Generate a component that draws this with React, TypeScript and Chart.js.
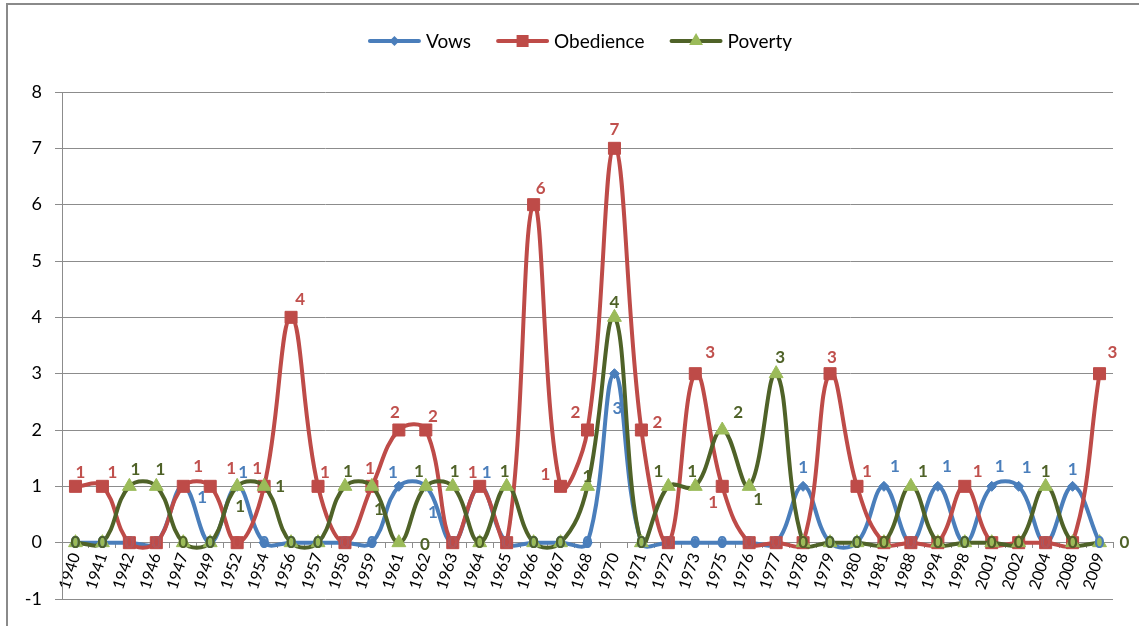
import React, { useEffect, useRef } from "react";
import { Chart, registerables } from "chart.js";

Chart.register(...registerables);

const categories = [
  "1940", "1941", "1942", "1946", "1947", "1949", "1952", "1954", "1956", "1957",
  "1958", "1959", "1961", "1962", "1963", "1964", "1965", "1966", "1967", "1968",
  "1970", "1971", "1972", "1973", "1975", "1976", "1977", "1978", "1979", "1980",
  "1981", "1988", "1994", "1998", "2001", "2002", "2004", "2008", "2009",
];

const vows = [0, 0, 0, 0, 1, 0, 1, 0, 0, 0, 0, 0, 1, 1, 0, 1, 0, 0, 0, 0, 3, 0, 0, 0, 0, 0, 0, 1, 0, 0, 1, 0, 1, 0, 1, 1, 0, 1, 0];
const obedience = [1, 1, 0, 0, 1, 1, 0, 1, 4, 1, 0, 1, 2, 2, 0, 1, 0, 6, 1, 2, 7, 2, 0, 3, 1, 0, 0, 0, 3, 1, 0, 0, 0, 1, 0, 0, 0, 0, 3];
const poverty = [0, 0, 1, 1, 0, 0, 1, 1, 0, 0, 1, 1, 0, 1, 1, 0, 1, 0, 0, 1, 4, 0, 1, 1, 2, 1, 3, 0, 0, 0, 0, 1, 0, 0, 0, 0, 1, 0, 0];

const seriesNames = ["Vows", "Obedience", "Poverty"];
const yMin = -1;
const yMax = 8;

// styling
const lineColors = ["#4A7EBB", "#BE4B48", "#4F6228"];
const markerColors = ["#4A7EBB", "#BE4B48", "#9BBB59"];
const labelColors = ["#4A7EBB", "#C0504D", "#4F6228"];
const FONT = "Lato, 'Open Sans', sans-serif";

// label offsets (series-index) -> [dx, dy]
const labelOffsets: Record<string, [number, number]> = {
  "0-4": [19, 11], "0-6": [6, -14], "0-12": [-6, -14], "0-13": [7, 26], "0-15": [7, -14],
  "0-20": [3, 35], "0-27": [0, -19], "0-30": [11, -20], "0-32": [9, -20], "0-34": [8, -20],
  "0-35": [8, -19], "0-37": [0, -17],
  "1-0": [5, -14], "1-1": [10, -14], "1-4": [15, -20], "1-5": [21, -18], "1-7": [-7, -18],
  "1-8": [9, -18], "1-9": [7, -14], "1-11": [-2, -18], "1-12": [-4, -17], "1-13": [7, -13],
  "1-15": [-7, -14], "1-17": [7, -16], "1-18": [-15, -12], "1-19": [-12, -17], "1-20": [0, -19],
  "1-21": [16, -7], "1-23": [15, -21], "1-24": [-9, 16], "1-28": [2, -16], "1-29": [10, -15],
  "1-33": [13, -15], "1-38": [13, -21],
  "2-2": [6, -17], "2-3": [4, -17], "2-6": [3, 20], "2-7": [16, 0], "2-10": [3, -15],
  "2-11": [7, 23], "2-12": [26, 2], "2-13": [-7, -15], "2-14": [2, -15], "2-16": [-2, -15],
  "2-19": [0, -10], "2-20": [0, -15], "2-22": [-10, -15], "2-23": [-3, -15], "2-24": [16, -17],
  "2-25": [9, 13], "2-26": [4, -16], "2-31": [12, -15], "2-36": [0, -15], "2-38": [25, 0],
};

function drawMarker(ctx: CanvasRenderingContext2D, kind: number, x: number, y: number) {
  ctx.fillStyle = markerColors[kind];
  ctx.beginPath();
  if (kind === 0) {
    const r = 5;
    ctx.moveTo(x, y - r);
    ctx.lineTo(x + r, y);
    ctx.lineTo(x, y + r);
    ctx.lineTo(x - r, y);
    ctx.closePath();
  } else if (kind === 1) {
    ctx.rect(x - 6, y - 6, 12, 12);
  } else {
    const r = 8;
    ctx.moveTo(x, y - r);
    ctx.lineTo(x + r * 0.866, y + r * 0.5);
    ctx.lineTo(x - r * 0.866, y + r * 0.5);
    ctx.closePath();
  }
  ctx.fill();
}

const decorPlugin = {
  id: "decor",
  afterDatasetsDraw(chart: any) {
    const ctx: CanvasRenderingContext2D = chart.ctx;
    ctx.save();
    ctx.font = `bold 17px ${FONT}`;
    ctx.textAlign = "center";
    ctx.textBaseline = "middle";
    chart.data.datasets.forEach((ds: any, s: number) => {
      const meta = chart.getDatasetMeta(s);
      meta.data.forEach((pt: any, i: number) => {
        const v = ds.data[i];
        const off = labelOffsets[`${s}-${i}`] ?? (v === 0 ? [0, 0] : [6, -17]);
        ctx.fillStyle = labelColors[s];
        ctx.fillText(String(v), pt.x + off[0], pt.y + off[1]);
      });
    });
    ctx.restore();
  },
  afterDraw(chart: any) {
    const ctx: CanvasRenderingContext2D = chart.ctx;
    ctx.save();
    // outer border
    ctx.strokeStyle = "#8a8a8a";
    ctx.lineWidth = 2;
    ctx.strokeRect(7, 4, 1300, 800);
    // legend
    ctx.font = `19px ${FONT}`;
    ctx.textBaseline = "middle";
    ctx.textAlign = "left";
    const lineLen = 53;
    const gapText = 5;
    const gapItems = 25;
    const widths = seriesNames.map((n) => ctx.measureText(n).width);
    const total = widths.reduce((a, w) => a + lineLen + gapText + w, 0) + gapItems * (seriesNames.length - 1);
    let x = 580 - total / 2;
    const y = 41;
    seriesNames.forEach((name, k) => {
      ctx.strokeStyle = lineColors[k];
      ctx.lineWidth = 4;
      ctx.lineCap = "round";
      ctx.beginPath();
      ctx.moveTo(x + 2, y);
      ctx.lineTo(x + lineLen - 2, y);
      ctx.stroke();
      drawMarker(ctx, k, x + lineLen / 2, y);
      ctx.fillStyle = "#000";
      ctx.fillText(name, x + lineLen + gapText, y + 1);
      x += lineLen + gapText + widths[k] + gapItems;
    });
    ctx.restore();
  },
};

export default function App() {
  const ref = useRef<HTMLCanvasElement | null>(null);

  useEffect(() => {
    if (!ref.current) return;
    const common = {
      borderWidth: 4,
      tension: 0.4,
      borderJoinStyle: "round" as const,
      borderCapStyle: "round" as const,
      pointBorderWidth: 1,
    };
    const chart = new Chart(ref.current, {
      type: "line",
      data: {
        labels: categories,
        datasets: [
          {
            ...common,
            label: seriesNames[0],
            data: vows,
            borderColor: lineColors[0],
            backgroundColor: markerColors[0],
            pointBackgroundColor: markerColors[0],
            pointBorderColor: markerColors[0],
            pointStyle: "rectRot",
            pointRadius: 5,
            order: 3,
          },
          {
            ...common,
            label: seriesNames[1],
            data: obedience,
            borderColor: lineColors[1],
            backgroundColor: markerColors[1],
            pointBackgroundColor: markerColors[1],
            pointBorderColor: markerColors[1],
            pointStyle: "rect",
            pointRadius: 8.5,
            order: 2,
          },
          {
            ...common,
            label: seriesNames[2],
            data: poverty,
            borderColor: lineColors[2],
            backgroundColor: markerColors[2],
            pointBackgroundColor: markerColors[2],
            pointBorderColor: markerColors[2],
            pointStyle: "triangle",
            pointRadius: 8,
            order: 1,
          },
        ],
      },
      options: {
        animation: false,
        responsive: false,
        layout: { padding: { top: 92, bottom: 27, left: 0, right: 26 } },
        plugins: {
          legend: { display: false },
          tooltip: { enabled: false },
        },
        scales: {
          x: {
            type: "category",
            position: { y: 0 } as any,
            offset: true,
            grid: {
              display: true,
              drawOnChartArea: false,
              drawTicks: true,
              tickLength: 5,
              offset: true,
              color: "#8c8c8c",
            },
            border: { color: "#8c8c8c", width: 1 },
            ticks: {
              minRotation: 72,
              maxRotation: 72,
              autoSkip: false,
              color: "#000",
              padding: 3,
              font: { family: FONT, size: 16 },
            },
          },
          y: {
            min: yMin,
            max: yMax,
            ticks: {
              stepSize: 1,
              color: "#000",
              padding: 13,
              font: { family: FONT, size: 18 },
            },
            grid: { color: "#8c8c8c", tickLength: 7 },
            border: { color: "#8c8c8c" },
            afterFit: (scale: any) => {
              scale.width = 62;
            },
          },
        },
      },
      plugins: [decorPlugin],
    });
    return () => chart.destroy();
  }, []);

  return (
    <div style={{ position: "fixed", left: 0, top: 0, width: 1139, height: 626, background: "#fff" }}>
      <canvas ref={ref} width={1139} height={626} />
    </div>
  );
}
